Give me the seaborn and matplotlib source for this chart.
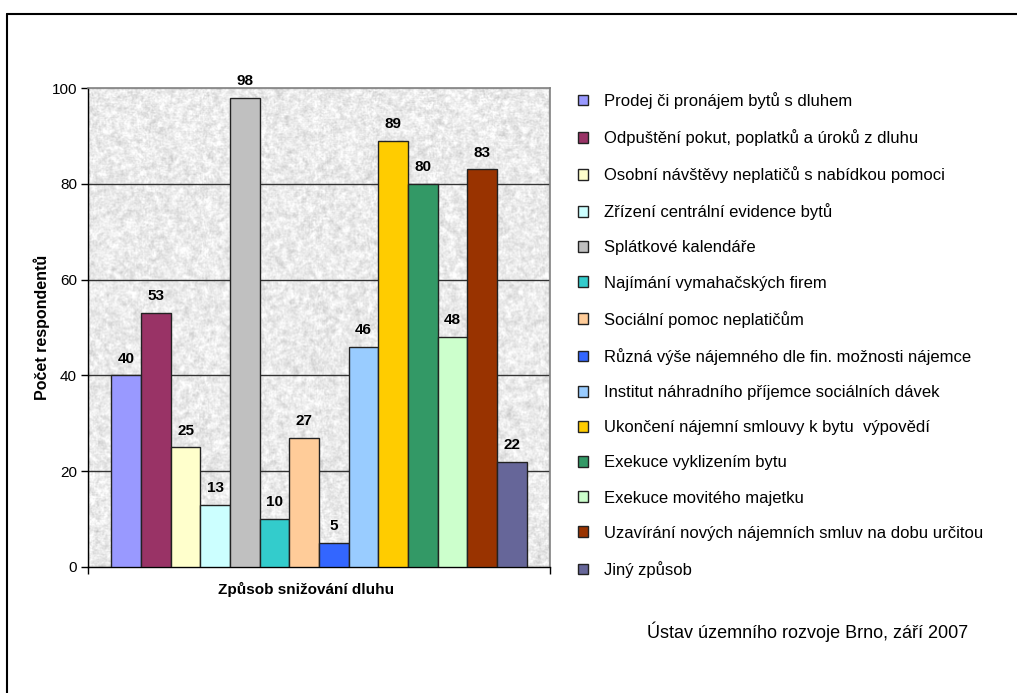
import numpy as np
import pandas as pd
import matplotlib
matplotlib.use("Agg")
import matplotlib.pyplot as plt
from matplotlib.patches import Patch
from matplotlib.lines import Line2D
import seaborn as sns

# Survey answers: ways of reducing rent debt
categories = [
    "Prodej či pronájem bytů s dluhem",
    "Odpuštění pokut, poplatků a úroků z dluhu",
    "Osobní návštěvy neplatičů s nabídkou pomoci",
    "Zřízení centrální evidence bytů",
    "Splátkové kalendáře",
    "Najímání vymahačských firem",
    "Sociální pomoc neplatičům",
    "Různá výše nájemného dle fin. možnosti nájemce",
    "Institut náhradního příjemce sociálních dávek",
    "Ukončení nájemní smlouvy k bytu  výpovědí",
    "Exekuce vyklizením bytu",
    "Exekuce movitého majetku",
    "Uzavírání nových nájemních smluv na dobu určitou",
    "Jiný způsob",
]
respondents = [40, 53, 25, 13, 98, 10, 27, 5, 46, 89, 80, 48, 83, 22]
colors = ["#9999FF", "#993366", "#FFFFCC", "#CCFFFF", "#C0C0C0", "#33CCCC",
          "#FFCC99", "#3366FF", "#99CCFF", "#FFCC00", "#339966", "#CCFFCC",
          "#993300", "#666699"]
y_ticks = [0, 20, 40, 60, 80, 100]

sns.set_style("white")
plt.rcParams["font.family"] = ["Liberation Sans", "DejaVu Sans"]
plt.rcParams.update({"text.color": "black", "axes.labelcolor": "black",
                     "xtick.color": "black", "ytick.color": "black"})

W, H, DPI = 1017, 693, 100
fig = plt.figure(figsize=(W / DPI, H / DPI), dpi=DPI)
ax = fig.add_axes([88 / W, 1 - 567 / H, (550 - 88) / W, (567 - 88) / H])

df = pd.DataFrame({"kat": categories, "pocet": respondents})
sns.barplot(data=df, x="kat", y="pocet", hue="kat", palette=colors,
            saturation=1, dodge=False, width=1.0, edgecolor="#222222",
            linewidth=1.0, legend=False, ax=ax, zorder=3)

xlim = (-1.29, 14.29)
ax.set_xlim(*xlim)
ax.set_ylim(0, 100)

# granite-like plot background
rng = np.random.default_rng(7)
th, tw = 480, 470
def box_blur(a, n):
    k = np.ones(n) / n
    a = np.apply_along_axis(lambda r: np.convolve(r, k, mode="same"), 1, a)
    return np.apply_along_axis(lambda c: np.convolve(c, k, mode="same"), 0, a)
coarse = box_blur(rng.random((th, tw)), 5)
fine = box_blur(rng.random((th, tw)), 2)
coarse = (coarse - coarse.mean()) / coarse.std()
fine = (fine - fine.mean()) / fine.std()
tex = np.clip(0.92 + 0.03 * coarse + 0.025 * fine, 0.74, 1.0)
ax.imshow(tex, cmap="gray", vmin=0, vmax=1, extent=(xlim[0], xlim[1], 0, 100),
          aspect="auto", zorder=0, interpolation="bilinear")

# horizontal gridlines
for v in y_ticks[1:-1]:
    ax.axhline(v, color="#333333", linewidth=1.0, zorder=1)

for cont in ax.containers:
    ax.bar_label(cont, padding=7, fontsize=11, fontweight="bold", zorder=4)

ax.set_yticks(y_ticks)
ax.set_yticklabels([str(v) for v in y_ticks], fontsize=11)
ax.set_xticks(list(xlim))
ax.set_xticklabels(["", ""])
ax.tick_params(axis="both", direction="out", length=5, width=1, color="black",
               left=True, bottom=True, pad=3)

for side in ["top", "right"]:
    ax.spines[side].set_color("#808080")
    ax.spines[side].set_linewidth(1.2)
for side in ["left", "bottom"]:
    ax.spines[side].set_color("black")
    ax.spines[side].set_linewidth(1.0)

ax.set_xlabel("Způsob snižování dluhu", fontsize=11, fontweight="bold")
ax.xaxis.set_label_coords(0.472, -0.031)
ax.set_ylabel("Počet respondentů", fontsize=11.5, fontweight="bold")
ax.yaxis.set_label_coords(-0.083, 0.5)

handles = [Patch(facecolor=c, edgecolor="#222222", linewidth=1.0) for c in colors]
fig.legend(handles, categories, loc="upper left",
           bbox_to_anchor=(578 / W, 1 - 92 / H), bbox_transform=fig.transFigure,
           frameon=False, fontsize=12, handlelength=0.62, handleheight=0.62,
           handletextpad=0.92, labelspacing=1.21, borderpad=0, borderaxespad=0)

fig.text(647 / W, 1 - 632 / H, "Ústav územního rozvoje Brno, září 2007",
         fontsize=13, va="center", ha="left")

# outer frame
fig.add_artist(Line2D([7 / W, 7 / W], [0, 1 - 14 / H], transform=fig.transFigure,
                      color="black", linewidth=1.5))
fig.add_artist(Line2D([7 / W, 1], [1 - 14 / H, 1 - 14 / H], transform=fig.transFigure,
                      color="black", linewidth=1.5))

fig.savefig("out.png", dpi=DPI)
